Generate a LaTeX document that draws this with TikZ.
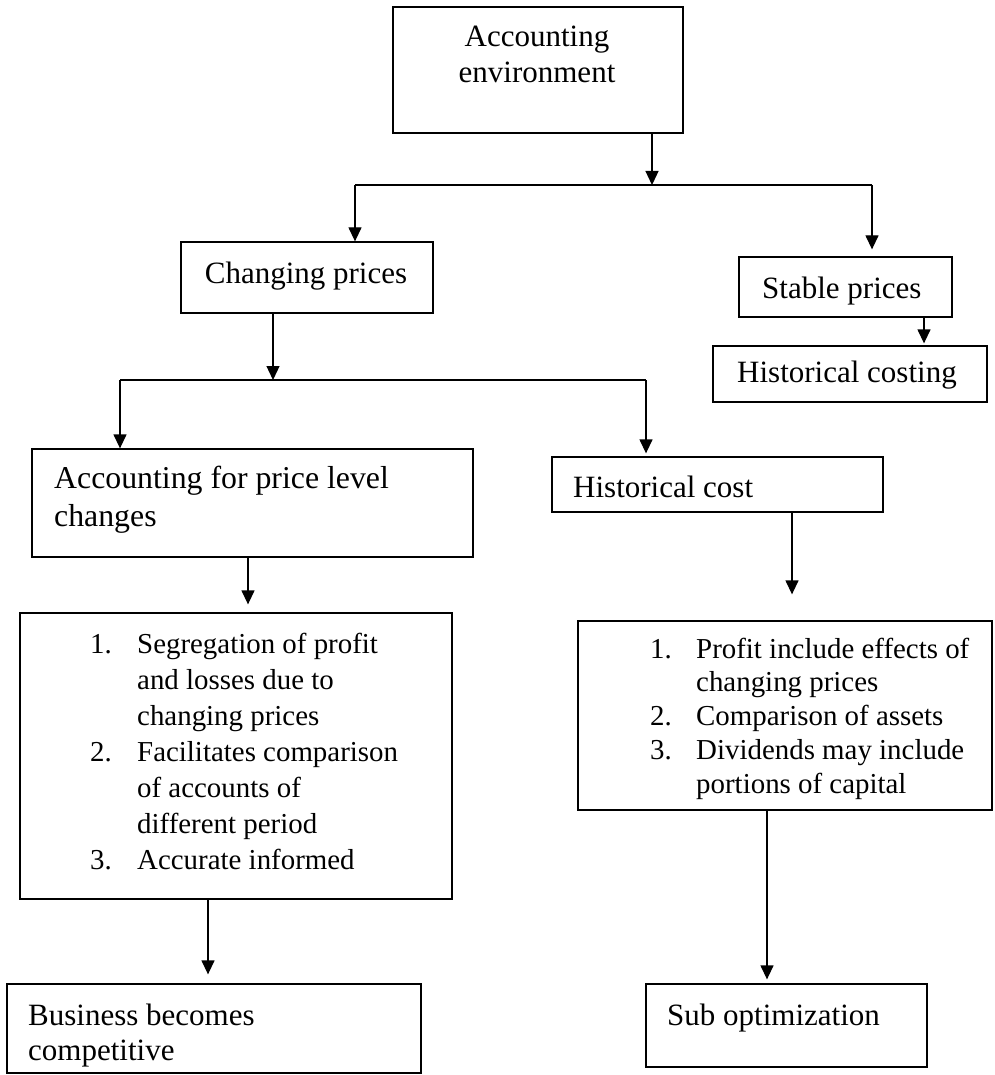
\documentclass[tikz,border=0pt]{standalone}
\usepackage{fontspec}
\setmainfont{Liberation Serif}
\usetikzlibrary{arrows.meta}
\begin{document}
\begin{tikzpicture}[x=1pt,y=-1pt,
  box/.style={draw, line width=1.3pt, inner sep=0pt, rectangle},
  txt/.style={inner sep=0pt, font=\fontsize{31}{35.4}\selectfont},
  listtxt/.style={inner sep=0pt, anchor=base west},
  arr/.style={line width=1.3pt, -{Triangle[width=13pt,length=14pt]}},
  ln/.style={line width=1.3pt}]
\useasboundingbox (0,0) rectangle (994,1075);

% boxes
\node[box, minimum width=290pt, minimum height=126pt] (env) at (538,70) {};
\node[box, minimum width=252pt, minimum height=71pt] (changing) at (307,277.5) {};
\node[box, minimum width=213pt, minimum height=60pt] (stable) at (845.5,287) {};
\node[box, minimum width=274pt, minimum height=56pt] (hist) at (850,374) {};
\node[box, minimum width=441pt, minimum height=108pt] (apl) at (252.5,503) {};
\node[box, minimum width=331pt, minimum height=55pt] (hc) at (717.5,484.5) {};
\node[box, minimum width=432pt, minimum height=286pt] (listL) at (236,756) {};
\node[box, minimum width=414pt, minimum height=189pt] (listR) at (785,715.5) {};
\node[box, minimum width=414pt, minimum height=89pt] (bus) at (214,1028.5) {};
\node[box, minimum width=281pt, minimum height=83pt] (sub) at (786.5,1025.5) {};

% texts
\node[txt, anchor=base] (envT) at (537,47) {\begin{tabular}[t]{@{}c@{}}Accounting\\environment\end{tabular}};
\node[txt, anchor=base] (changingT) at (306,283) {Changing prices};
\node[txt, anchor=base west] (stableT) at (762,298) {Stable prices};
\node[txt, anchor=base west] (histT) at (737,382) {Historical costing};
\node[txt, font=\fontsize{31.8}{38}\selectfont, anchor=base west] (aplT) at (54,488) {\begin{tabular}[t]{@{}l@{}}Accounting for price level\\changes\end{tabular}};
\node[txt, anchor=base west] (hcT) at (573,497) {Historical cost};
\node[listtxt, font=\fontsize{28.9}{36}\selectfont] (listLT) at (90,653) {\begin{tabular}[t]{@{}p{47pt}@{}l@{}}
1. & Segregation of profit\\
   & and losses due to\\
   & changing prices\\
2. & Facilitates comparison\\
   & of accounts of\\
   & different period\\
3. & Accurate informed
\end{tabular}};
\node[listtxt, font=\fontsize{28.9}{33.75}\selectfont] (listRT) at (650,658) {\begin{tabular}[t]{@{}p{46pt}@{}l@{}}
1. & Profit include effects of\\
   & changing prices\\
2. & Comparison of assets\\
3. & Dividends may include\\
   & portions of capital
\end{tabular}};
\node[txt, anchor=base west] (busT) at (28,1025) {\begin{tabular}[t]{@{}l@{}}Business becomes\\competitive\end{tabular}};
\node[txt, anchor=base west] (subT) at (667,1025) {Sub optimization};

% connectors
\coordinate (j1) at (652,185);
\coordinate (jL) at (355,185);
\coordinate (jR) at (872,185);
\draw[arr] (env.south -| j1) -- (j1);
\draw[ln] (jL) -- (jR);
\draw[arr] (jL) -- (jL |- changing.north);
\draw[arr, shorten >=7pt] (jR) -- (jR |- stable.north);

\coordinate (k) at (273,380);
\coordinate (kL) at (120,380);
\coordinate (kR) at (646,380);
\draw[arr] (changing.south -| k) -- (k);
\draw[ln] (kL) -- (kR);
\draw[arr] (kL) -- (kL |- apl.north);
\draw[arr, shorten >=3pt] (kR) -- (kR |- hc.north);

\coordinate (s1) at (924,0);
\draw[arr, shorten >=2pt] (stable.south -| s1) -- (hist.north -| s1);

\coordinate (a1) at (248,0);
\draw[arr, shorten >=8pt] (apl.south -| a1) -- (listL.north -| a1);
\coordinate (h1) at (792,0);
\draw[arr, shorten >=26pt] (hc.south -| h1) -- (listR.north -| h1);
\coordinate (l1) at (208,0);
\draw[arr, shorten >=9pt] (listL.south -| l1) -- (bus.north -| l1);
\coordinate (r1) at (767,0);
\draw[arr, shorten >=4pt] (listR.south -| r1) -- (sub.north -| r1);
\end{tikzpicture}
\end{document}
